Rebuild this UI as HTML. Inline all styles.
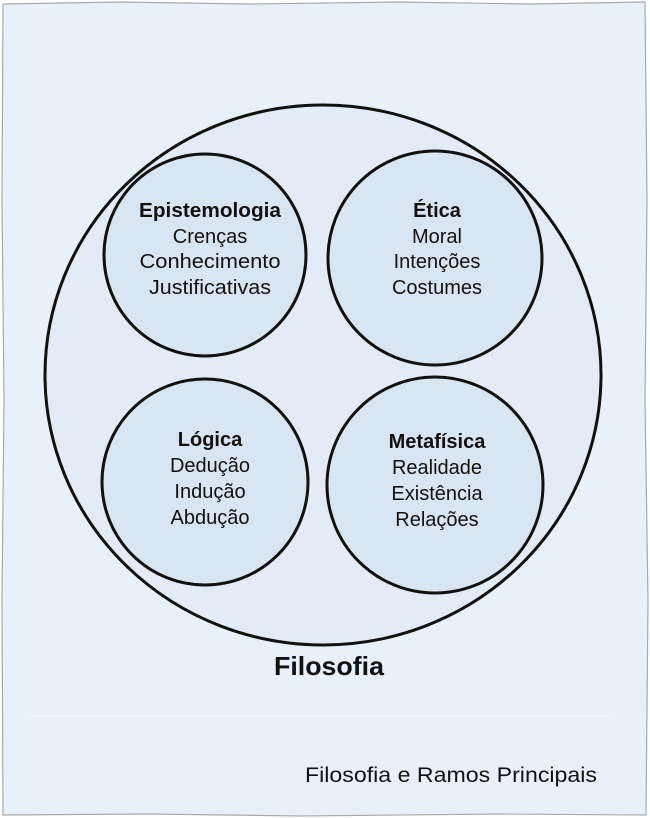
<!DOCTYPE html>
<html><head><meta charset="utf-8"><style>
html,body{margin:0;padding:0;background:#fff;width:650px;height:818px;overflow:hidden}
svg{display:block}
text{font-family:"Liberation Sans","DejaVu Sans",sans-serif;fill:#111}
</style></head><body>
<svg width="650" height="818" viewBox="0 0 650 818">
<path d="M3,4 L120,2 L250,4 L400,2 L530,4 L645,2 L647,200 L645,400 L648,600 L646,815 L500,814 L300,816 L150,814 L3,815 L2,600 L4,400 L2,200 Z" fill="#e8f0fa" stroke="#aaa" stroke-width="1.2"/>
<line x1="28" y1="716" x2="612" y2="716" stroke="#f4f8fd" stroke-width="1"/>
<ellipse cx="323" cy="375" rx="278" ry="270" fill="#e2ebf6" stroke="#111" stroke-width="3"/>
<circle cx="205" cy="255" r="101" fill="#d8e5f3" stroke="#111" stroke-width="3"/>
<circle cx="435" cy="258" r="107" fill="#d8e5f3" stroke="#111" stroke-width="3"/>
<circle cx="205" cy="482" r="103" fill="#d8e5f3" stroke="#111" stroke-width="3"/>
<circle cx="435" cy="485" r="108" fill="#d8e5f3" stroke="#111" stroke-width="3"/>
<g text-anchor="middle" font-size="20">
<text x="210" y="217" font-weight="bold" textLength="142" lengthAdjust="spacingAndGlyphs">Epistemologia</text>
<text x="210" y="243">Crenças</text>
<text x="210" y="268" textLength="141" lengthAdjust="spacingAndGlyphs">Conhecimento</text>
<text x="210" y="294" textLength="122" lengthAdjust="spacingAndGlyphs">Justificativas</text>
<text x="437" y="217" font-weight="bold">Ética</text>
<text x="437" y="243">Moral</text>
<text x="437" y="268">Intenções</text>
<text x="437" y="294">Costumes</text>
<text x="210" y="446" font-weight="bold">Lógica</text>
<text x="210" y="472">Dedução</text>
<text x="210" y="498">Indução</text>
<text x="210" y="524">Abdução</text>
<text x="437" y="448" font-weight="bold">Metafísica</text>
<text x="437" y="474">Realidade</text>
<text x="437" y="500">Existência</text>
<text x="437" y="526">Relações</text>
<text x="329" y="675" font-size="26" font-weight="bold" textLength="110" lengthAdjust="spacingAndGlyphs">Filosofia</text>
</g>
<text x="597" y="782" font-size="21" text-anchor="end" textLength="292" lengthAdjust="spacingAndGlyphs">Filosofia e Ramos Principais</text>
</svg>
</body></html>
